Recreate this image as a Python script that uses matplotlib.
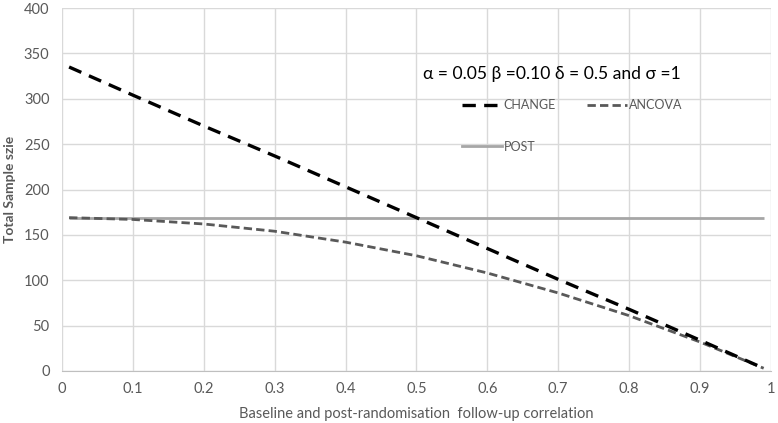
import matplotlib.pyplot as plt
from matplotlib.lines import Line2D

# correlation between baseline and follow-up
rho = [0.01, 0.1, 0.2, 0.3, 0.4, 0.5, 0.6, 0.7, 0.8, 0.9, 0.99]
change = [335, 304, 270, 237, 203, 169, 135, 101, 68, 34, 3]
ancova = [169, 167, 162, 154, 142, 127, 108, 86, 61, 32, 3]
post = [169] * len(rho)

xticks = [0, 0.1, 0.2, 0.3, 0.4, 0.5, 0.6, 0.7, 0.8, 0.9, 1]
xticklabels = ['0', '0.1', '0.2', '0.3', '0.4', '0.5', '0.6', '0.7', '0.8', '0.9', '1']
yticks = [0, 50, 100, 150, 200, 250, 300, 350, 400]

plt.rcParams['font.family'] = ['Lato', 'DejaVu Sans']
tick_col = '#595959'

fig = plt.figure(figsize=(7.78, 4.23), dpi=100)
ax = fig.add_axes([0.0797, 0.123, 0.911, 0.858])

ax.plot(rho, post, color='#a6a6a6', lw=2, solid_capstyle='butt')
ax.plot(rho, ancova, color='#595959', lw=2, ls=(0, (3, 1.5)))
ax.plot(rho, change, color='black', lw=2.4, ls=(0, (4, 2.5)))

ax.set_xlim(0, 1)
ax.set_ylim(0, 400)
ax.set_xticks(xticks)
ax.set_xticklabels(xticklabels)
ax.set_yticks(yticks)
ax.grid(True, color='#d9d9d9', lw=1)
ax.set_axisbelow(True)
for s in ['top', 'right', 'left']:
    ax.spines[s].set_visible(False)
ax.spines['bottom'].set_color('#bfbfbf')
ax.tick_params(length=0, colors=tick_col, labelsize=10.5, pad=8)
ax.tick_params(axis='y', pad=9)

ax.set_ylabel('Total Sample szie', color=tick_col, fontsize=10, fontweight='bold', labelpad=6)
ax.set_xlabel('Baseline and post-randomisation  follow-up correlation', color=tick_col,
              fontsize=10.5, labelpad=8)

ax.text(0.51, 0.818, 'α = 0.05 β =0.10 δ = 0.5 and σ =1', transform=ax.transAxes,
        fontsize=12.6, color='black', va='center')

handles = [Line2D([], [], color='black', lw=2.4, ls=(0, (4, 2.5))),
           Line2D([], [], color='#a6a6a6', lw=2),
           Line2D([], [], color='#595959', lw=2, ls=(0, (3, 1.5)))]
labels = ['CHANGE', 'POST', 'ANCOVA']
leg = ax.legend(handles, labels, ncol=2, frameon=False, loc='upper left',
                bbox_to_anchor=(0.548, 0.78), fontsize=9, labelspacing=2.35,
                handlelength=3.2, handletextpad=0.15, columnspacing=2.5)
for t in leg.get_texts():
    t.set_color(tick_col)

fig.savefig('out.png', dpi=100)
